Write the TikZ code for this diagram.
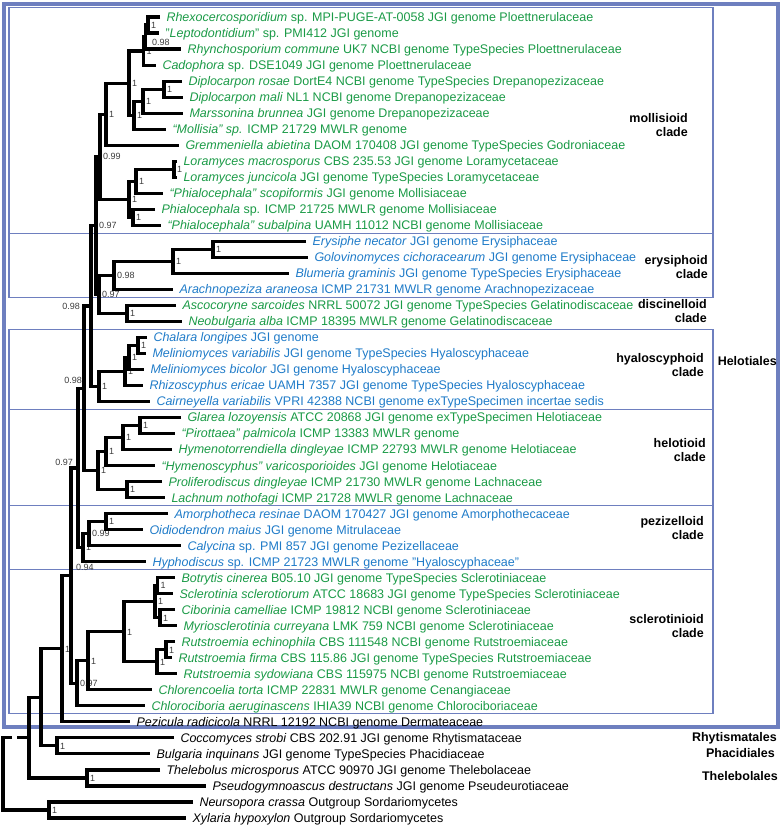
\documentclass[tikz,border=0pt]{standalone}
\usepackage{fontspec}
\setmainfont{Liberation Sans}
\definecolor{leafgreen}{HTML}{1A9A46}
\definecolor{leafblue}{HTML}{1F7BC8}
\definecolor{cladeframe}{HTML}{6E7FBF}
\definecolor{supgray}{HTML}{3C3C3C}
\newcommand{\taxafont}{\fontsize{12.5}{14}\selectfont}
\newcommand{\supfont}{\fontsize{9}{10}\selectfont}
\newcommand{\cladefont}{\fontsize{12.5}{14}\selectfont\bfseries}
\begin{document}
\begin{tikzpicture}[x=1pt,y=-16.02pt,
 tx/.style={anchor=west,inner xsep=6.5pt,inner ysep=0pt,outer sep=0pt,text height=8.9pt,text depth=0pt,font=\taxafont},
 gr/.style={text=leafgreen},bl/.style={text=leafblue},bk/.style={text=black},
 br/.style={line width=3.1pt},
 sv/.style={anchor=west,inner xsep=3pt,inner ysep=0pt,outer sep=0pt,text height=6.5pt,text depth=0pt,font=\supfont,text=supgray},
 clade/.style={anchor=east,align=right,inner sep=0pt,font=\cladefont},
 cbox/.style={draw=cladeframe,line width=1.1pt},
 hbox/.style={draw=cladeframe,line width=3.4pt}]
\useasboundingbox (0,-0.0612) rectangle (782,51.499);
\draw[hbox] (4,0.19) rectangle (778,45.32);
\foreach \top/\bot in {0.41/14.5,14.5/18.5,20.5/25.5,25.5/31.5,31.5/35.5,35.5/44.5}
  \draw[cbox] (9,\top) rectangle (713,\bot);
% taxa
\node[tx,gr] (rhex) at (160,1) {\textit{Rhexocercosporidium} sp. MPI-PUGE-AT-0058 JGI genome Ploettnerulaceae};
\node[tx,gr] (lepto) at (159,2) {"\textit{Leptodontidium}" sp. PMI412 JGI genome};
\node[tx,gr] (rhyn) at (181,3) {\textit{Rhynchosporium commune} UK7 NCBI genome TypeSpecies Ploettnerulaceae};
\node[tx,gr] (cado) at (156,4) {\textit{Cadophora} sp. DSE1049 JGI genome Ploettnerulaceae};
\node[tx,gr] (dros) at (182,5) {\textit{Diplocarpon rosae} DortE4 NCBI genome TypeSpecies Drepanopezizaceae};
\node[tx,gr] (dmal) at (183,6) {\textit{Diplocarpon mali} NL1 NCBI genome Drepanopezizaceae};
\node[tx,gr] (mars) at (183,7) {\textit{Marssonina brunnea} JGI genome Drepanopezizaceae};
\node[tx,gr] (moll) at (166,8) {\textit{“Mollisia” sp.} ICMP 21729 MWLR genome};
\node[tx,gr] (grem) at (179,9) {\textit{Gremmeniella abietina} DAOM 170408 JGI genome TypeSpecies Godroniaceae};
\node[tx,gr] (lmac) at (177,10) {\textit{Loramyces macrosporus} CBS 235.53 JGI genome Loramycetaceae};
\node[tx,gr] (ljun) at (177,11) {\textit{Loramyces juncicola} JGI genome TypeSpecies Loramycetaceae};
\node[tx,gr] (pscop) at (163,12) {\textit{“Phialocephala” scopiformis} JGI genome Mollisiaceae};
\node[tx,gr] (psp) at (155,13) {\textit{Phialocephala} sp. ICMP 21725 MWLR genome Mollisiaceae};
\node[tx,gr] (psub) at (161,14) {\textit{“Phialocephala” subalpina} UAMH 11012 NCBI genome Mollisiaceae};
\node[tx,bl] (erys) at (306,15) {\textit{Erysiphe necator} JGI genome Erysiphaceae};
\node[tx,bl] (golo) at (308,16) {\textit{Golovinomyces cichoracearum} JGI genome Erysiphaceae};
\node[tx,bl] (blum) at (289,17) {\textit{Blumeria graminis} JGI genome TypeSpecies Erysiphaceae};
\node[tx,bl] (arach) at (173,18) {\textit{Arachnopeziza araneosa} ICMP 21731 MWLR genome Arachnopezizaceae};
\node[tx,gr] (asco) at (176,19) {\textit{Ascocoryne sarcoides} NRRL 50072 JGI genome TypeSpecies Gelatinodiscaceae};
\node[tx,gr] (neob) at (182,20) {\textit{Neobulgaria alba} ICMP 18395 MWLR genome Gelatinodiscaceae};
\node[tx,bl] (chal) at (147,21) {\textit{Chalara longipes} JGI genome};
\node[tx,bl] (mvar) at (146,22) {\textit{Meliniomyces variabilis} JGI genome TypeSpecies Hyaloscyphaceae};
\node[tx,bl] (mbic) at (144,23) {\textit{Meliniomyces bicolor} JGI genome Hyaloscyphaceae};
\node[tx,bl] (rhiz) at (143,24) {\textit{Rhizoscyphus ericae} UAMH 7357 JGI genome TypeSpecies Hyaloscyphaceae};
\node[tx,bl] (cair) at (150,25) {\textit{Cairneyella variabilis} VPRI 42388 NCBI genome exTypeSpecimen incertae sedis};
\node[tx,gr] (glar) at (181,26) {\textit{Glarea lozoyensis} ATCC 20868 JGI genome exTypeSpecimen Helotiaceae};
\node[tx,gr] (piro) at (175,27) {\textit{“Pirottaea” palmicola} ICMP 13383 MWLR genome};
\node[tx,gr] (hymt) at (172,28) {\textit{Hymenotorrendiella dingleyae} ICMP 22793 MWLR genome Helotiaceae};
\node[tx,gr] (hyms) at (155,29) {\textit{“Hymenoscyphus” varicosporioides} JGI genome Helotiaceae};
\node[tx,gr] (prol) at (162,30) {\textit{Proliferodiscus dingleyae} ICMP 21730 MWLR genome Lachnaceae};
\node[tx,gr] (lach) at (165,31) {\textit{Lachnum nothofagi} ICMP 21728 MWLR genome Lachnaceae};
\node[tx,bl] (amor) at (168,32) {\textit{Amorphotheca resinae} DAOM 170427 JGI genome Amorphothecaceae};
\node[tx,bl] (oidi) at (143,33) {\textit{Oidiodendron maius} JGI genome Mitrulaceae};
\node[tx,bl] (caly) at (181,34) {\textit{Calycina} sp. PMI 857 JGI genome Pezizellaceae};
\node[tx,bl] (hyph) at (146,35) {\textit{Hyphodiscus} sp. ICMP 21723 MWLR genome "Hyaloscyphaceae"};
\node[tx,gr] (botr) at (175,36) {\textit{Botrytis cinerea} B05.10 JGI genome TypeSpecies Sclerotiniaceae};
\node[tx,gr] (scle) at (173,37) {\textit{Sclerotinia sclerotiorum} ATCC 18683 JGI genome TypeSpecies Sclerotiniaceae};
\node[tx,gr] (cibo) at (175,38) {\textit{Ciborinia camelliae} ICMP 19812 NCBI genome Sclerotiniaceae};
\node[tx,gr] (myri) at (177,39) {\textit{Myriosclerotinia curreyana} LMK 759 NCBI genome Sclerotiniaceae};
\node[tx,gr] (rech) at (175,40) {\textit{Rutstroemia echinophila} CBS 111548 NCBI genome Rutstroemiaceae};
\node[tx,gr] (rfir) at (172,41) {\textit{Rutstroemia firma} CBS 115.86 JGI genome TypeSpecies Rutstroemiaceae};
\node[tx,gr] (rsyd) at (177,42) {\textit{Rutstroemia sydowiana} CBS 115975 NCBI genome Rutstroemiaceae};
\node[tx,gr] (chlt) at (152,43) {\textit{Chlorencoelia torta} ICMP 22831 MWLR genome Cenangiaceae};
\node[tx,gr] (chla) at (145,44) {\textit{Chlorociboria aeruginascens} IHIA39 NCBI genome Chlorociboriaceae};
\node[tx,bk] (pezi) at (130,45) {\textit{Pezicula radicicola} NRRL 12192 NCBI genome Dermateaceae};
\node[tx,bk] (cocc) at (174,46) {\textit{Coccomyces strobi} CBS 202.91 JGI genome Rhytismataceae};
\node[tx,bk] (bulg) at (150,47) {\textit{Bulgaria inquinans} JGI genome TypeSpecies Phacidiaceae};
\node[tx,bk] (thel) at (160,48) {\textit{Thelebolus microsporus} ATCC 90970 JGI genome Thelebolaceae};
\node[tx,bk] (pseu) at (206,49) {\textit{Pseudogymnoascus destructans} JGI genome Pseudeurotiaceae};
\node[tx,bk] (neur) at (193,50) {\textit{Neursopora crassa} Outgroup Sordariomycetes};
\node[tx,bk] (xyla) at (186,51) {\textit{Xylaria hypoxylon} Outgroup Sordariomycetes};
% internal nodes and support values
\path (148,1.5) coordinate (mol1) node[sv] (mol1v) {1};
\coordinate (mol2) at (145.5,2.25); \node[sv] (mol2v) at (149,2.55) {0.98};
\path (143.5,3.125) coordinate (mol3) node[sv] (mol3v) {1};
\path (164,5.5) coordinate (mol4) node[sv] (mol4v) {1};
\path (143,6.25) coordinate (mol5) node[sv] (mol5v) {1};
\path (134,7.125) coordinate (mol6) node[sv] (mol6v) {1};
\path (129,5.125) coordinate (mol7) node[sv] (mol7v) {1};
\path (106,7.0625) coordinate (mol8) node[sv] (mol8v) {1};
\path (174,10.5) coordinate (mol9) node[sv] (mol9v) {1};
\path (136,11.25) coordinate (mol10) node[sv] (mol10v) {1};
\path (133,13.5) coordinate (mol11) node[sv] (mol11v) {1};
\path (129,12.375) coordinate (mol12) node[sv] (mol12v) {1};
\path (100,9.71875) coordinate (mol13) node[sv] (mol13v) {0.99};
\path (213,15.5) coordinate (ery1) node[sv] (ery1v) {1};
\path (173,16.25) coordinate (ery2) node[sv] (ery2v) {1};
\path (114,17.125) coordinate (ery3) node[sv] (ery3v) {0.98};
\path (127,19.5) coordinate (dis1) node[sv] (dis1v) {1};
\path (99,18.3125) coordinate (erydis) node[sv] (erydisv) {0.97};
\path (96,14.015625) coordinate (bb1) node[sv] (bb1v) {0.97};
\path (138,21.5) coordinate (hya1) node[sv] (hya1v) {1};
\path (129,22.25) coordinate (hya2) node[sv] (hya2v) {1};
\path (125,23.125) coordinate (hya3) node[sv] (hya3v) {1};
\path (99,24.0625) coordinate (hya4) node[sv] (hya4v) {1};
\coordinate (bb2) at (91,19.039); \node[sv,anchor=east] (bb2v) at (83,19.039) {0.98};
\path (140,26.5) coordinate (hel1) node[sv] (hel1v) {1};
\path (123,27.25) coordinate (hel2) node[sv] (hel2v) {1};
\path (106,28.125) coordinate (hel3) node[sv] (hel3v) {1};
\path (127,30.5) coordinate (hel4) node[sv] (hel4v) {1};
\path (98,29.3125) coordinate (hel5) node[sv] (hel5v) {1};
\coordinate (bb3) at (84,24.1758); \node[sv,anchor=east] (bb3v) at (85,23.66) {0.98};
\path (106,32.5) coordinate (pez1) node[sv] (pez1v) {1};
\path (89,33.25) coordinate (pez2) node[sv] (pez2v) {0.99};
\path (83,34.125) coordinate (pez3) node[sv] (pez3v) {1};
\coordinate (bb4) at (78,29.1504); \node[sv,anchor=east] (bb4v) at (76,28.78) {0.97};
\path (157.5,36.5) coordinate (scl1) node[sv] (scl1v) {1};
\path (160,38.5) coordinate (scl2) node[sv] (scl2v) {1};
\path (155,37.5) coordinate (scl3) node[sv] (scl3v) {1};
\path (166,40.5) coordinate (scl4) node[sv] (scl4v) {1};
\path (157,41.25) coordinate (scl5) node[sv] (scl5v) {1};
\path (124,39.375) coordinate (scl6) node[sv] (scl6v) {1};
\path (88,41.1875) coordinate (scl7) node[sv] (scl7v) {1};
\path (77,42.59375) coordinate (scl8) node[sv] (scl8v) {0.97};
\coordinate (bb5) at (71,35.8721); \node[sv] (bb5v) at (73,35.33) {0.94};
\path (62,40.436) coordinate (bb6) node[sv] (bb6v) {1};
\path (57,46.5) coordinate (rhy1) node[sv] (rhy1v) {1};
\coordinate (bb7) at (41,43.468);
\path (87,48.5) coordinate (the1) node[sv] (the1v) {1};
\coordinate (bb8) at (29,45.984);
\path (49,50.5) coordinate (out1) node[sv] (out1v) {1};
\coordinate (root) at (3,48.242);
\coordinate (cuta) at (12,45.984);
\coordinate (cutb) at (17,45.984);
% branches
\draw[br] (rhex.west) -| (mol1) |- (lepto.west);
\draw[br] (mol1) -| (mol2) |- (rhyn.west);
\draw[br] (mol2) -| (mol3) |- (cado.west);
\draw[br] (dros.west) -| (mol4) |- (dmal.west);
\draw[br] (mol4) -| (mol5) |- (mars.west);
\draw[br] (mol5) -| (mol6) |- (moll.west);
\draw[br] (mol3) -| (mol7) |- (mol6);
\draw[br] (mol7) -| (mol8) |- (grem.west);
\draw[br] (lmac.west) -| (mol9) |- (ljun.west);
\draw[br] (mol9) -| (mol10) |- (pscop.west);
\draw[br] (psp.west) -| (mol11) |- (psub.west);
\draw[br] (mol10) -| (mol12) |- (mol11);
\draw[br] (mol8) -| (mol13) |- (mol12);
\draw[br] (erys.west) -| (ery1) |- (golo.west);
\draw[br] (ery1) -| (ery2) |- (blum.west);
\draw[br] (ery2) -| (ery3) |- (arach.west);
\draw[br] (asco.west) -| (dis1) |- (neob.west);
\draw[br] (ery3) -| (erydis) |- (dis1);
\draw[br] (mol13) -| (bb1) |- (erydis);
\draw[br] (chal.west) -| (hya1) |- (mvar.west);
\draw[br] (hya1) -| (hya2) |- (mbic.west);
\draw[br] (hya2) -| (hya3) |- (rhiz.west);
\draw[br] (hya3) -| (hya4) |- (cair.west);
\draw[br] (bb1) -| (bb2) |- (hya4);
\draw[br] (glar.west) -| (hel1) |- (piro.west);
\draw[br] (hel1) -| (hel2) |- (hymt.west);
\draw[br] (hel2) -| (hel3) |- (hyms.west);
\draw[br] (prol.west) -| (hel4) |- (lach.west);
\draw[br] (hel3) -| (hel5) |- (hel4);
\draw[br] (bb2) -| (bb3) |- (hel5);
\draw[br] (amor.west) -| (pez1) |- (oidi.west);
\draw[br] (pez1) -| (pez2) |- (caly.west);
\draw[br] (pez2) -| (pez3) |- (hyph.west);
\draw[br] (bb3) -| (bb4) |- (pez3);
\draw[br] (botr.west) -| (scl1) |- (scle.west);
\draw[br] (cibo.west) -| (scl2) |- (myri.west);
\draw[br] (scl1) -| (scl3) |- (scl2);
\draw[br] (rech.west) -| (scl4) |- (rfir.west);
\draw[br] (scl4) -| (scl5) |- (rsyd.west);
\draw[br] (scl3) -| (scl6) |- (scl5);
\draw[br] (scl6) -| (scl7) |- (chlt.west);
\draw[br] (scl7) -| (scl8) |- (chla.west);
\draw[br] (bb4) -| (bb5) |- (scl8);
\draw[br] (bb5) -| (bb6) |- (pezi.west);
\draw[br] (cocc.west) -| (rhy1) |- (bulg.west);
\draw[br] (bb6) -| (bb7) |- (rhy1);
\draw[br] (thel.west) -| (the1) |- (pseu.west);
\draw[br] (bb7) -| (bb8) |- (the1);
\draw[br] (neur.west) -| (out1) |- (xyla.west);
\draw[br] (cuta) -| (root) |- (out1);
\draw[br] (cutb) -- (bb8);
% clade names
\node[clade] (mollab) at (688,7.74) {mollisioid\\clade};
\node[clade] (erylab) at (708,16.61) {erysiphoid\\clade};
\node[clade] (dislab) at (707,19.35) {discinelloid\\clade};
\node[clade] (hyalab) at (704,22.72) {hyaloscyphoid\\clade};
\node[clade] (hellab) at (706,28.03) {helotioid\\clade};
\node[clade] (pezlab) at (704,32.9) {pezizelloid\\clade};
\node[clade] (scllab) at (704,39.02) {sclerotinioid\\clade};
\node[clade] (helotiales) at (777,22.47) {Helotiales};
\node[clade] (rhytis) at (777,46.0) {Rhytismatales};
\node[clade] (phacid) at (775,46.94) {Phacidiales};
\node[clade] (thelob) at (778,48.38) {Thelebolales};
\end{tikzpicture}
\end{document}
